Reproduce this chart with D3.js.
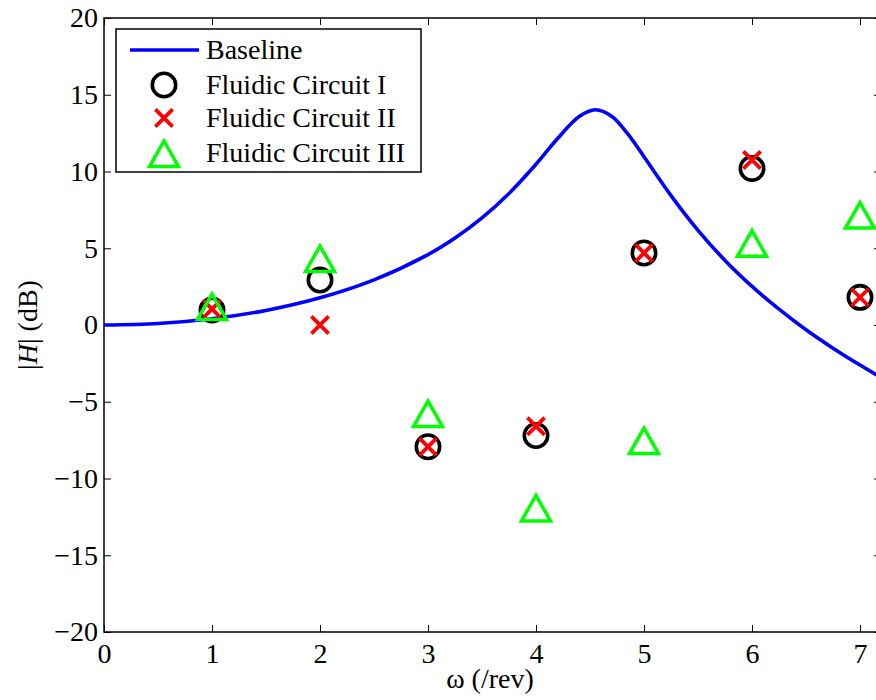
<!DOCTYPE html>
<html>
<head>
<meta charset="utf-8">
<script src="https://cdn.jsdelivr.net/npm/d3@7"></script>
<style>
  html, body { margin: 0; padding: 0; background: #fff; }
  svg { display: block; }
  text { font-family: "Liberation Serif", "Times New Roman", serif; fill: #000; }
</style>
</head>
<body>
<svg id="chart" width="876" height="700"></svg>
<script>
// ---------- data ----------
const xTicks = [0, 1, 2, 3, 4, 5, 6, 7];
const yTicks = [-20, -15, -10, -5, 0, 5, 10, 15, 20];

// Baseline curve
const baselineX = [0, 0.5, 1, 1.5, 2, 2.5, 3, 3.25, 3.5, 3.75, 4, 4.2, 4.4, 4.55, 4.7, 4.85, 5, 5.25, 5.5, 5.75, 6, 6.25, 6.5, 6.75, 7, 7.15, 7.2];
const baselineY = [0, 0.10, 0.41, 0.95, 1.77, 2.94, 4.59, 5.67, 6.98, 8.57, 10.47, 12.15, 13.58, 14.02, 13.60, 12.45, 10.96, 8.43, 6.17, 4.21, 2.52, 1.03, -0.31, -1.51, -2.61, -3.23, -3.42];

const testX = [1, 2, 3, 4, 5, 6, 7];
const circuitI   = [0.98, 2.93, -7.93, -7.2, 4.69, 10.2, 1.8];
const circuitII  = [1.04, 0.0, -7.93, -6.6, 4.69, 10.75, 1.8];
const circuitIII = [1.17, 4.3, -5.8, -11.95, -7.56, 5.3, 7.13];

const legendLabels = ["Baseline", "Fluidic Circuit I", "Fluidic Circuit II", "Fluidic Circuit III"];

// ---------- layout ----------
const svg = d3.select("#chart");
const pL = 104, pR = 881, pT = 18, pB = 632;
const x = d3.scaleLinear().domain([0, (pR - pL) / 108]).range([pL, pR]);
const y = d3.scaleLinear().domain([-20, 20]).range([pB, pT]);

const blue = "#0000ff", red = "#ff0000", green = "#00ff00";
const fontSize = 28;

svg.append("defs").append("clipPath").attr("id", "plotclip")
  .append("rect").attr("x", pL).attr("y", pT).attr("width", pR - pL).attr("height", pB - pT);

// axes box
svg.append("rect").attr("x", pL).attr("y", pT).attr("width", pR - pL).attr("height", pB - pT)
  .attr("fill", "none").attr("stroke", "#000").attr("stroke-width", 1.5);

const tickLen = 7;
const xAxisB = d3.axisBottom(x).tickValues(xTicks).tickSize(-tickLen).tickPadding(14).tickFormat(d3.format("d"));
const gxb = svg.append("g").attr("transform", `translate(0,${pB})`).call(xAxisB);
gxb.select(".domain").remove();
gxb.selectAll(".tick line").attr("stroke", "#000").attr("stroke-width", 1);
gxb.selectAll(".tick text").attr("font-size", fontSize).attr("font-family", "Liberation Serif").attr("fill", "#000").attr("dy", "0.71em").attr("y", 11);

const xAxisT = d3.axisTop(x).tickValues(xTicks).tickSize(-tickLen).tickFormat("");
const gxt = svg.append("g").attr("transform", `translate(0,${pT})`).call(xAxisT);
gxt.select(".domain").remove();
gxt.selectAll(".tick line").attr("stroke", "#000").attr("stroke-width", 1);

const fmtY = d => (d < 0 ? "\u2212" + Math.abs(d) : String(d));
const yAxisL = d3.axisLeft(y).tickValues(yTicks).tickSize(-tickLen).tickPadding(14).tickFormat(fmtY);
const gyl = svg.append("g").attr("transform", `translate(${pL},0)`).call(yAxisL);
gyl.select(".domain").remove();
gyl.selectAll(".tick line").attr("stroke", "#000").attr("stroke-width", 1);
gyl.selectAll(".tick text").attr("font-size", fontSize).attr("font-family", "Liberation Serif").attr("fill", "#000").attr("x", -6).attr("dy", "0.32em");

const yAxisR = d3.axisRight(y).tickValues(yTicks).tickSize(-tickLen).tickFormat("");
const gyr = svg.append("g").attr("transform", `translate(${pR},0)`).call(yAxisR);
gyr.select(".domain").remove();
gyr.selectAll(".tick line").attr("stroke", "#000").attr("stroke-width", 1);

// axis titles
svg.append("text").attr("x", (pL + 876) / 2).attr("y", 688).attr("text-anchor", "middle")
  .attr("font-size", fontSize).text("\u03c9 (/rev)");

const yl = svg.append("text").attr("transform", `translate(37,${(pT + pB) / 2}) rotate(-90)`)
  .attr("text-anchor", "middle").attr("font-size", fontSize);
yl.append("tspan").text("|");
yl.append("tspan").attr("font-style", "italic").text("H");
yl.append("tspan").text("| (dB)");

// ---------- marks ----------
const plot = svg.append("g").attr("clip-path", "url(#plotclip)");

const line = d3.line().x((d, i) => x(baselineX[i])).y(d => y(d)).curve(d3.curveCatmullRom.alpha(0.5));
plot.append("path").datum(baselineY).attr("d", line)
  .attr("fill", "none").attr("stroke", blue).attr("stroke-width", 3.6).attr("stroke-linejoin", "round");

const markG = svg.append("g");
const circR = 11.7;
function drawCircle(g, cx, cy) {
  g.append("circle").attr("cx", cx).attr("cy", cy).attr("r", circR)
    .attr("fill", "none").attr("stroke", "#000").attr("stroke-width", 3.6);
}
const cr = 8.6;
function drawCross(g, cx, cy) {
  g.append("path").attr("d", `M${cx - cr},${cy - cr}L${cx + cr},${cy + cr}M${cx - cr},${cy + cr}L${cx + cr},${cy - cr}`)
    .attr("fill", "none").attr("stroke", red).attr("stroke-width", 3.8);
}
function drawTri(g, cx, cy) {
  g.append("path").attr("d", `M${cx},${cy - 13}L${cx + 14.5},${cy + 12.5}L${cx - 14.5},${cy + 12.5}Z`)
    .attr("fill", "none").attr("stroke", green).attr("stroke-width", 3.5).attr("stroke-linejoin", "miter");
}

testX.forEach((xv, i) => drawCircle(markG, x(xv), y(circuitI[i])));
testX.forEach((xv, i) => drawCross(markG, x(xv), y(circuitII[i])));
testX.forEach((xv, i) => drawTri(markG, x(xv), y(circuitIII[i])));

// ---------- legend ----------
const lg = svg.append("g");
lg.append("rect").attr("x", 116).attr("y", 29).attr("width", 305).attr("height", 143)
  .attr("fill", "#fff").attr("stroke", "#000").attr("stroke-width", 1.5);
const rowY = [50, 85, 118, 153];
lg.append("line").attr("x1", 130).attr("x2", 199).attr("y1", rowY[0]).attr("y2", rowY[0])
  .attr("stroke", blue).attr("stroke-width", 3.6);
drawCircle(lg, 164, rowY[1]);
drawCross(lg, 164, rowY[2]);
drawTri(lg, 164, rowY[3] + 1);
legendLabels.forEach((t, i) => {
  lg.append("text").attr("x", 206).attr("y", rowY[i]).attr("dy", "0.33em")
    .attr("font-size", fontSize).text(t);
});
</script>
</body>
</html>
